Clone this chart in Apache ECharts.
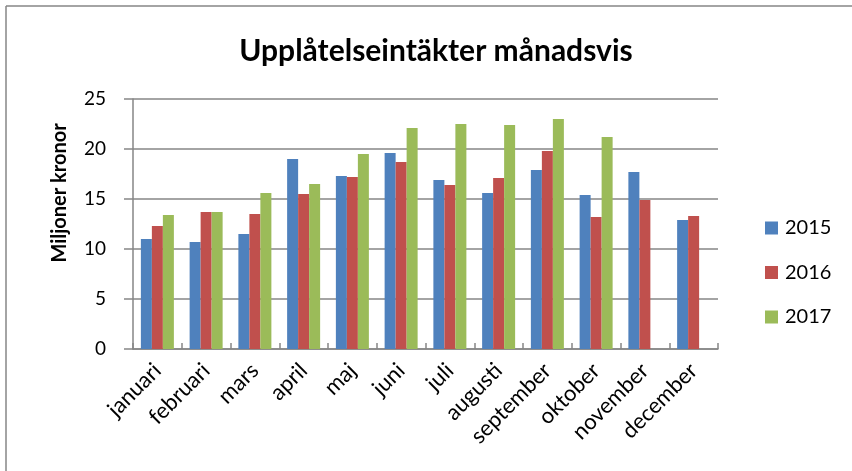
<!DOCTYPE html>
<html>
<head>
<meta charset="utf-8">
<script src="https://cdn.jsdelivr.net/npm/echarts@6/dist/echarts.min.js"></script>
<style>
html,body{margin:0;padding:0;background:#fff;}
#c{width:852px;height:471px;}
</style>
</head>
<body>
<div id="c"></div>
<script>
var months = ['januari','februari','mars','april','maj','juni','juli','augusti','september','oktober','november','december'];
var s2015 = [11.0, 10.7, 11.5, 19.0, 17.3, 19.6, 16.9, 15.6, 17.9, 15.4, 17.7, 12.9];
var s2016 = [12.3, 13.7, 13.5, 15.5, 17.2, 18.7, 16.4, 17.1, 19.8, 13.2, 14.9, 13.3];
var s2017 = [13.4, 13.7, 15.6, 16.5, 19.5, 22.1, 22.5, 22.4, 23.0, 21.2, null, null];
var yTicks = [0, 5, 10, 15, 20, 25];

var font = 'Lato, "Open Sans", sans-serif';
var chart = echarts.init(document.getElementById('c'), null, {renderer: 'canvas'});
function bar(name, data, color) {
  return {
    name: name, type: 'bar', data: data, barWidth: 11, barGap: '0%',
    itemStyle: {color: color}, emphasis: {disabled: true}
  };
}
chart.setOption({
  animation: false,
  backgroundColor: '#fff',
  title: {
    text: 'Upplåtelseintäkter månadsvis',
    left: 431, top: 31, textAlign: 'center',
    textStyle: {fontFamily: font, fontWeight: 'bold', fontSize: 30, color: '#000'}
  },
  legend: {
    orient: 'vertical', left: 760, top: 213, itemGap: 24.5,
    itemWidth: 13, itemHeight: 13, icon: 'rect',
    textStyle: {fontFamily: font, fontSize: 20, color: '#000', padding: [0, 0, 0, 2]},
    data: ['2015', '2016', '2017']
  },
  grid: {left: 133, top: 99, width: 585, height: 250, containLabel: false},
  xAxis: {
    type: 'category', data: months,
    axisLine: {lineStyle: {color: '#868686', width: 1.5}},
    axisTick: {show: true, inside: true, length: 6, lineStyle: {color: '#868686', width: 1.5}},
    axisLabel: {rotate: 45, fontFamily: font, fontSize: 22, color: '#000', margin: 18, interval: 0}
  },
  yAxis: {
    type: 'value', min: yTicks[0], max: yTicks[yTicks.length - 1], interval: 5,
    axisLine: {show: true, lineStyle: {color: '#868686', width: 1.5}},
    axisTick: {show: true, length: 9, lineStyle: {color: '#868686', width: 1.5}},
    axisLabel: {fontFamily: font, fontSize: 19, color: '#000', margin: 27},
    splitLine: {lineStyle: {color: '#868686', width: 1.5}}
  },
  series: [
    bar('2015', s2015, '#4F81BD'),
    bar('2016', s2016, '#C0504D'),
    bar('2017', s2017, '#9BBB59')
  ],
  graphic: [
    {type: 'line', shape: {x1: 6, y1: 6, x2: 852, y2: 6}, style: {stroke: '#868686', lineWidth: 1.5}},
    {type: 'line', shape: {x1: 6, y1: 6, x2: 6, y2: 471}, style: {stroke: '#868686', lineWidth: 1.5}},
    {type: 'text', x: 60, y: 193, rotation: Math.PI / 2,
     style: {text: 'Miljoner kronor', fontFamily: font, fontWeight: 'bold', fontSize: 20, fill: '#000',
             textAlign: 'center', textVerticalAlign: 'middle'}}
  ]
});
</script>
</body>
</html>
